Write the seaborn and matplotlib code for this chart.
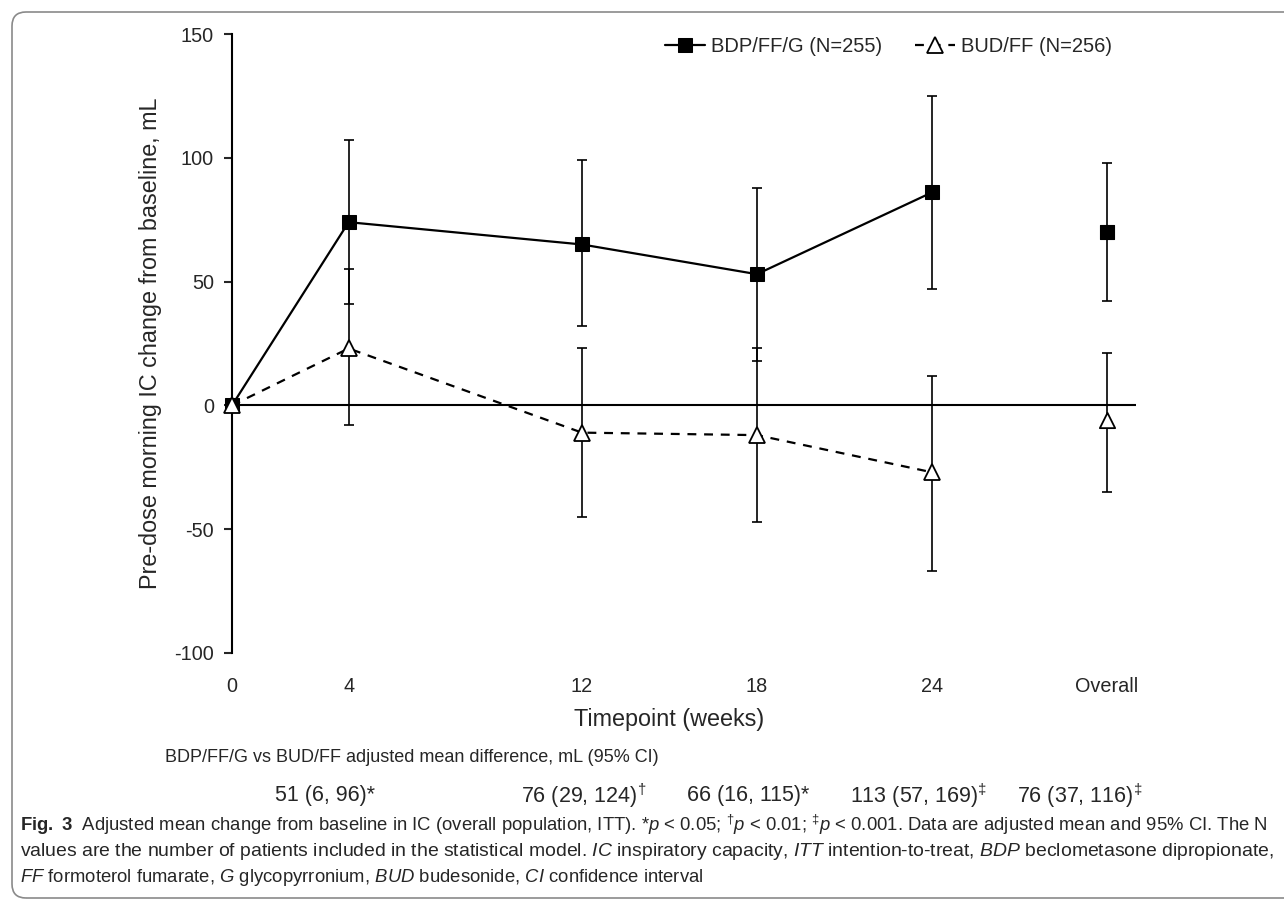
import matplotlib
matplotlib.use("Agg")
import matplotlib.pyplot as plt
import pandas as pd
import seaborn as sns
from matplotlib import font_manager
from matplotlib.patches import FancyBboxPatch
from matplotlib.transforms import IdentityTransform

weeks = [0, 4, 12, 18, 24]
tick_pos = [0, 4, 12, 18, 24, 30]
tick_labels = ["0", "4", "12", "18", "24", "Overall"]

bdp_mean = [0, 74, 65, 53, 86]
bdp_lo = [0, 41, 32, 18, 47]
bdp_hi = [0, 107, 99, 88, 125]
bud_mean = [0, 23, -11, -12, -27]
bud_lo = [0, -8, -45, -47, -67]
bud_hi = [0, 55, 23, 23, 12]

overall_x = 30
bdp_overall = 70
bdp_overall_ci = [42, 98]
bud_overall = -6
bud_overall_ci = [-35, 21]

diff_text = ["51 (6, 96)", "76 (29, 124)", "66 (16, 115)", "113 (57, 169)", "76 (37, 116)"]
diff_mark = ["*", r"$^{\dagger}$", "*", r"$^{\ddagger}$", r"$^{\ddagger}$"]
diff_xpix = [325, 584, 748, 919, 1080]

bdp_label = "BDP/FF/G (N=255)"
bud_label = "BUD/FF (N=256)"

available = {f.name for f in font_manager.fontManager.ttflist}
narrow = "Liberation Sans Narrow" if "Liberation Sans Narrow" in available else "Liberation Sans"

sns.set_style("white")
plt.rcParams["font.family"] = ["Liberation Sans", "DejaVu Sans"]
plt.rcParams["mathtext.fontset"] = "custom"
plt.rcParams["mathtext.rm"] = narrow
plt.rcParams["mathtext.it"] = narrow + ":italic"
plt.rcParams["mathtext.bf"] = narrow + ":bold"

W, H = 1284, 902
fig = plt.figure(figsize=(W / 100, H / 100), dpi=100)
ax = fig.add_axes([232 / W, 1 - 653 / H, (1136 - 232) / W, (653 - 34) / H])

df_bdp = pd.DataFrame({"week": weeks, "change": bdp_mean})
df_bud = pd.DataFrame({"week": weeks, "change": bud_mean})

err_kw = dict(fmt="none", ecolor="black", elinewidth=1.2, capsize=3.5, capthick=1.2, zorder=2)

# confidence intervals
ax.errorbar(weeks, bdp_mean, yerr=[[m - l for m, l in zip(bdp_mean, bdp_lo)],
                                   [h - m for m, h in zip(bdp_mean, bdp_hi)]], **err_kw)
ax.errorbar(weeks, bud_mean, yerr=[[m - l for m, l in zip(bud_mean, bud_lo)],
                                   [h - m for m, h in zip(bud_mean, bud_hi)]], **err_kw)
ax.errorbar([overall_x], [bdp_overall],
            yerr=[[bdp_overall - bdp_overall_ci[0]], [bdp_overall_ci[1] - bdp_overall]], **err_kw)
ax.errorbar([overall_x], [bud_overall],
            yerr=[[bud_overall - bud_overall_ci[0]], [bud_overall_ci[1] - bud_overall]], **err_kw)

ax.axhline(0, color="black", lw=1.5, zorder=1)

sns.lineplot(data=df_bdp, x="week", y="change", ax=ax, color="black", lw=1.6,
             marker="s", markersize=10, markerfacecolor="black", markeredgecolor="black",
             label=bdp_label, zorder=3, clip_on=False)
sns.lineplot(data=df_bud, x="week", y="change", ax=ax, color="black", lw=1.6,
             linestyle=(0, (4, 3.5)), marker="^", markersize=11, markerfacecolor="white",
             markeredgecolor="black", markeredgewidth=1.3, label=bud_label, zorder=4,
             clip_on=False)

sns.scatterplot(x=[overall_x], y=[bdp_overall], ax=ax, marker="s", s=100,
                color="black", edgecolor="black", zorder=3, legend=False)
sns.scatterplot(x=[overall_x], y=[bud_overall], ax=ax, marker="^", s=121,
                color="white", edgecolor="black", linewidth=1.3, zorder=4, legend=False)

ax.set_xlim(0, 31)
ax.set_ylim(-100, 150)
ax.set_yticks([-100, -50, 0, 50, 100, 150])
ax.set_yticklabels(["-100", "-50", "0", "50", "100", "150"])
ax.set_xticks(tick_pos)
ax.set_xticklabels(tick_labels)
ax.tick_params(axis="x", length=0, pad=17, labelsize=14.3)
ax.tick_params(axis="y", left=True, length=6, width=1.5, direction="out", pad=7, labelsize=14.3)

for side in ["top", "right", "bottom"]:
    ax.spines[side].set_visible(False)
ax.spines["left"].set_linewidth(1.5)
ax.spines["left"].set_color("black")

ax.set_ylabel("Pre-dose morning IC change from baseline, mL", fontsize=16.8, labelpad=8.5)
ax.set_xlabel("Timepoint (weeks)", fontsize=16.8)
ax.xaxis.set_label_coords((669 - 232) / (1136 - 232), -(708 - 653) / (653 - 34))

handles, labels = ax.get_legend_handles_labels()
ax.legend(handles, labels, ncol=2, frameon=False, loc="upper right", fontsize=14.5,
          bbox_to_anchor=(1130 / W, 1 - 19 / H), bbox_transform=fig.transFigure,
          handlelength=2.0, columnspacing=1.6, handletextpad=0.3)

# difference row
fig.text(165 / W, 1 - 757 / H, "BDP/FF/G vs BUD/FF adjusted mean difference, mL (95% CI)",
         fontsize=13, va="center", ha="left")
for t, m, xp in zip(diff_text, diff_mark, diff_xpix):
    fig.text(xp / W, 1 - 796 / H, t + m, fontsize=15.5, va="center", ha="center",
             family=[narrow, "DejaVu Sans"])

# caption
cap_lines = [
    r"$\mathbf{Fig.\ 3}$  Adjusted mean change from baseline in IC (overall population, ITT). "
    r"*$\mathit{p}$ < 0.05; $^{\dagger}\mathit{p}$ < 0.01; $^{\ddagger}\mathit{p}$ < 0.001. "
    r"Data are adjusted mean and 95% CI. The N",
    r"values are the number of patients included in the statistical model. $\mathit{IC}$ "
    r"inspiratory capacity, $\mathit{ITT}$ intention-to-treat, $\mathit{BDP}$ beclometasone dipropionate,",
    r"$\mathit{FF}$ formoterol fumarate, $\mathit{G}$ glycopyrronium, $\mathit{BUD}$ budesonide, "
    r"$\mathit{CI}$ confidence interval",
]
cap_texts = []
for i, line in enumerate(cap_lines):
    cap_texts.append(fig.text(20 / W, 1 - (825 + 26 * i) / H, line, fontsize=13.5,
                              va="center", ha="left", family=[narrow, "DejaVu Sans"]))

# squeeze the two full caption lines to the caption width
fig.canvas.draw()
renderer = fig.canvas.get_renderer()
sizes = []
for txt in cap_texts[:2]:
    width = txt.get_window_extent(renderer).width
    size = 13.5 * (1250 / width)
    txt.set_fontsize(size)
    sizes.append(size)
cap_texts[2].set_fontsize(min(sizes))

frame = FancyBboxPatch((12, 4), 1300, 886, boxstyle="round,pad=0,rounding_size=14",
                       transform=IdentityTransform(), fill=False, edgecolor="#8a8a8a", lw=1.2)
fig.patches.append(frame)

fig.savefig("out.png", dpi=100)
